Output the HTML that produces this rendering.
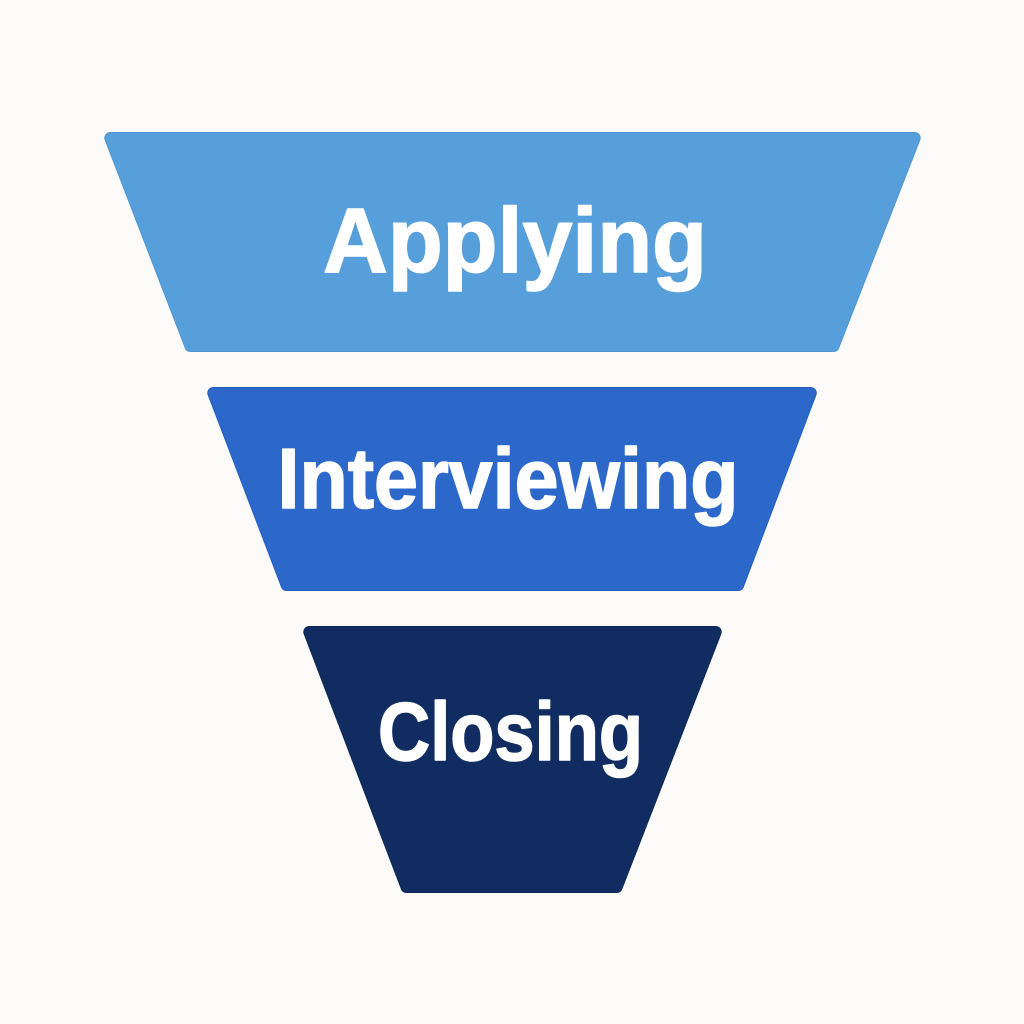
<!DOCTYPE html>
<html>
<head>
<meta charset="utf-8">
<style>
  html,body{margin:0;padding:0;background:#fcfbf9;}
  svg{display:block;}
  text{font-family:"Liberation Sans",Arial,sans-serif;font-weight:bold;fill:#ffffff;stroke:#ffffff;stroke-width:1.6;stroke-linejoin:round;}
</style>
</head>
<body>
<svg width="1024" height="1024" viewBox="0 0 1024 1024" xmlns="http://www.w3.org/2000/svg">
  <rect width="1024" height="1024" fill="#fcfbf9"/>
  <!-- Top: Applying -->
  <polygon points="110.3,138 914.7,138 833.6,346 190.4,346" fill="#4f96d4" stroke="#4f96d4" stroke-width="12" stroke-linejoin="round"/>
  <polygon points="110.3,138 914.7,138 833.6,346 190.4,346" fill="#579fdb" stroke="#579fdb" stroke-width="10" stroke-linejoin="round"/>
  <text x="515" y="272" font-size="92" text-anchor="middle" textLength="384" lengthAdjust="spacingAndGlyphs">Applying</text>

  <!-- Middle: Interviewing -->
  <polygon points="213.3,393 810.8,393 738.2,585 286.6,585" fill="#245fc0" stroke="#245fc0" stroke-width="12" stroke-linejoin="round"/>
  <polygon points="213.3,393 810.8,393 738.2,585 286.6,585" fill="#2b68c9" stroke="#2b68c9" stroke-width="10" stroke-linejoin="round"/>
  <text x="508" y="508" font-size="85" text-anchor="middle" textLength="461" lengthAdjust="spacingAndGlyphs">Interviewing</text>

  <!-- Bottom: Closing -->
  <polygon points="309.3,632 715.7,632 616.7,887 406.5,887" fill="#0c2656" stroke="#0c2656" stroke-width="12" stroke-linejoin="round"/>
  <polygon points="309.3,632 715.7,632 616.7,887 406.5,887" fill="#112c60" stroke="#112c60" stroke-width="10" stroke-linejoin="round"/>
  <text x="510.5" y="760" font-size="83" text-anchor="middle" textLength="265" lengthAdjust="spacingAndGlyphs">Closing</text>
</svg>
</body>
</html>
